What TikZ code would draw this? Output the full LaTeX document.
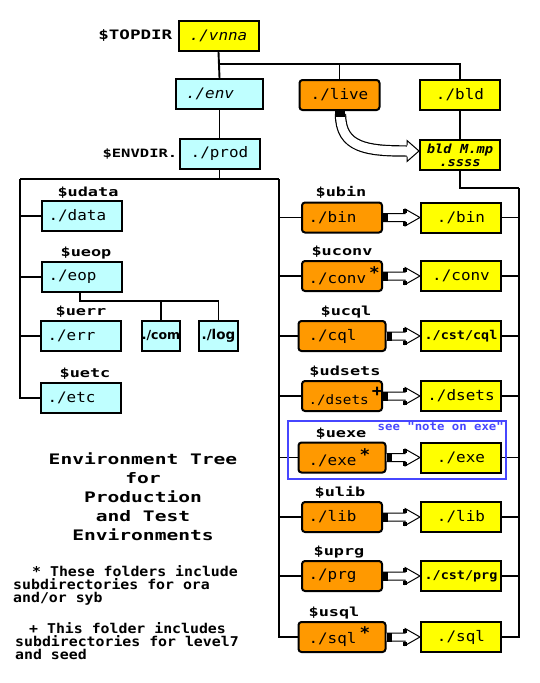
\documentclass[tikz,border=0pt]{standalone}
\usepackage{fontspec}
\newfontfamily\dirfont[FakeStretch=1.1]{DejaVu Sans Mono}
\newfontfamily\tagfont[FakeStretch=1.35]{DejaVu Sans Mono}
\newfontfamily\macfont{DejaVu Sans}
\usetikzlibrary{positioning,calc}

\definecolor{envcyan}{RGB}{191,255,255}
\definecolor{bldyellow}{RGB}{255,255,0}
\definecolor{liveorange}{RGB}{255,153,0}
\definecolor{noteblue}{RGB}{70,70,255}

\newcommand{\fsize}[1]{\fontsize{#1}{#1}\selectfont}
\newcommand{\flag}[2][5pt]{\rlap{\hspace{3pt}\raisebox{#1}{\bfseries\fsize{16}#2}}}

\tikzset{
	dirbox/.style = {draw, line width = 2pt, minimum width = 80pt, minimum height = 30pt, inner sep = 0pt, font = \dirfont\fsize{14.5}},
	leftbox/.style = {text width = 67pt, align = left, inner xsep = 6.5pt},
	envbox/.style = {dirbox, fill = envcyan},
	bldbox/.style = {dirbox, fill = bldyellow},
	livebox/.style = {dirbox, fill = liveorange, rounded corners = 3pt},
	dirtag/.style = {inner sep = 1pt, font = \tagfont\bfseries\fsize{12.5}},
	wire/.style = {line width = 1.9pt},
	hollow/.style = {line width = 1.2pt, double = white, double distance = 9pt},
	hollowtip/.style = {draw, fill = white, line width = 1pt, line join = miter},
}

\newcommand{\dirlink}[2]{%
	\draw [hollowtip] ($(#1.east)+(0,-4)$) -- ($(#2.west)+(-15,-4)$) -- ($(#2.west)+(-15,-8.5)$) -- (#2.west) -- ($(#2.west)+(-15,8.5)$) -- ($(#2.west)+(-15,4)$) -- ($(#1.east)+(0,4)$);
	\fill ($(#1.east)+(0,-4.5)$) rectangle ++(5,9);
	\fill ($(#2.west)+(-17,-8.5)$) rectangle ++(4,4);
	\fill ($(#2.west)+(-17,4.5)$) rectangle ++(4,4);
}

\begin{document}
\begin{tikzpicture}[x = 1pt, y = -1pt]
	\useasboundingbox (0,0) rectangle (539,683);

	\node [bldbox] (vnna) at (218.5,36) {\itshape ./vnna};
	\node [dirtag, left = 4pt of vnna, font = \tagfont\bfseries\fsize{13}] (topdir) {\$TOPDIR};
	\node [envbox, leftbox, inner xsep = 10pt] (env) at (219.5,94) {\itshape ./env};
	\node [livebox] (live) at (339.5,95) {./live};
	\node [bldbox] (bld) at (460,95) {./bld};
	\node [envbox] (prod) at (219.5,153.5) {./prod};
	\node [dirtag, left = 0pt of prod, font = \tagfont\bfseries\fsize{11.5}] (envdir) {\$ENVDIR.};
	\node [bldbox, align = center, font = \dirfont\bfseries\itshape\fontsize{12.5}{13}\selectfont] (bldmp) at (460,155) {bld M.mp\\.ssss};

	\node [envbox, leftbox] (data) at (82,216) {./data};
	\node [dirtag, above = 0pt of data, xshift = 6pt] (udata) {\$udata};
	\node [envbox, leftbox] (eop) at (82,277) {./eop};
	\node [dirtag, above = 1pt of eop, xshift = 4pt] (ueop) {\$ueop};
	\node [envbox, leftbox] (err) at (81,336) {./err};
	\node [dirtag, above = 1pt of err] (uerr) {\$uerr};
	\node [envbox, leftbox] (etc) at (81,398) {./etc};
	\node [dirtag, above = 1pt of etc, xshift = 4pt] (uetc) {\$uetc};
	\node [envbox, minimum width = 38pt, font = \macfont\bfseries\fsize{12.5}] (com) at (161,336) {./com};
	\node [envbox, minimum width = 39pt, font = \macfont\bfseries\fsize{13.5}] (log) at (218.5,336) {./log};

	\node [livebox, leftbox] (bin) at (342,217.5) {./bin};
	\node [dirtag, above = 2pt of bin, xshift = -1pt] (ubin) {\$ubin};
	\node [livebox, leftbox] (conv) at (342,276) {./conv\flag{*}};
	\node [dirtag, above = 1pt of conv] (uconv) {\$uconv};
	\node [livebox, leftbox, inner xsep = 10pt] (cql) at (342,336) {./cql};
	\node [dirtag, above = 1pt of cql, xshift = 4pt] (ucql) {\$ucql};
	\node [livebox, leftbox, inner xsep = 4pt, font = \dirfont\fsize{13}] (dsets) at (342,396) {./dsets\flag[8pt]{+}};
	\node [dirtag, above = 1pt of dsets, xshift = 3pt] (udsets) {\$udsets};
	\node [livebox, leftbox, inner xsep = 10pt] (exe) at (342,457.5) {./exe\flag{*}};
	\node [dirtag, above = 1pt of exe, xshift = -1pt] (uexe) {\$uexe};
	\node [livebox, leftbox] (lib) at (342,517) {./lib};
	\node [dirtag, above = 1pt of lib, xshift = -2pt] (ulib) {\$ulib};
	\node [livebox, leftbox] (prg) at (342,576) {./prg};
	\node [dirtag, above = 1pt of prg, xshift = -3pt] (uprg) {\$uprg};
	\node [livebox, leftbox, inner xsep = 10pt] (sql) at (342,637) {./sql\flag{*}};
	\node [dirtag, above = 1pt of sql, xshift = -8pt] (usql) {\$usql};

	\node [bldbox] (bbin) at (461,217.5) {./bin};
	\node [bldbox] (bconv) at (461,276) {./conv};
	\node [bldbox, font = \dirfont\bfseries\fsize{12.2}] (bcql) at (461,336) {./cst/cql};
	\node [bldbox] (bdsets) at (461,396) {./dsets};
	\node [bldbox] (bexe) at (461,457.5) {./exe};
	\node [bldbox] (blib) at (461,517) {./lib};
	\node [bldbox, font = \dirfont\bfseries\fsize{12.2}] (bprg) at (461,576) {./cst/prg};
	\node [bldbox] (bsql) at (461,637) {./sql};

	\coordinate (topbus) at ($(vnna.south)!.45!(env.north)$);
	\draw [wire] (vnna.south) -- (env.north);
	\draw [wire] (topbus) -| (live.north);
	\draw [wire] (topbus) -| (bld.north);
	\draw [wire] (env.south) -- (prod.north);
	\draw [wire] (bld.south) -- (bldmp.north);

	\coordinate (lrail) at (20,179);
	\coordinate (rrail) at (279,179);
	\coordinate (envbus) at (prod.south |- lrail);
	\draw [wire] (prod.south) -- (envbus);
	\draw [wire] (lrail) -- (rrail);
	\foreach \dname in {data,eop,err,etc}{
	\draw [wire] (lrail) |- (\dname.west);
	}
	\coordinate (eopbus) at ($(eop.south)+(-2,8)$);
	\draw [wire] (eopbus |- eop.south) -- (eopbus) -| (log.north);
	\draw [wire] (eopbus -| com.north) -- (com.north);

	\coordinate (yrail) at (519,188);
	\draw [wire] (bldmp.south) |- (yrail);
	\foreach \dname in {bin,conv,cql,dsets,exe,lib,prg,sql}{
	\draw [wire] (rrail) |- (\dname.west);
	\draw [wire] (yrail) |- (b\dname.east);
	\dirlink{\dname}{b\dname}
	}

	\coordinate (livetail) at ($(live.south)+(1,3)$);
	\coordinate (mpbase) at ($(bldmp.west)+(-12,-4)$);
	\draw [hollow] (livetail) .. controls +(0,34) and +(-40,0) .. (mpbase);
	\fill ($(live.south)+(-5,0)$) rectangle ++(10,6);
	\draw [hollowtip] ($(mpbase)+(0,-5.6)$) -- ($(mpbase)+(0,-10.5)$) -- ($(bldmp.west)+(0,-4)$) -- ($(mpbase)+(0,10.5)$) -- ($(mpbase)+(0,5.6)$);

	\draw [line width = 1.6pt, noteblue] (288,421) rectangle (506,479);
	\node [anchor = north east, inner sep = 0pt, text = noteblue, font = \dirfont\bfseries\fsize{11.2}] (exenote) at (504,422) {see "note on exe"};

	\node [align = center, font = \tagfont\bfseries\fontsize{14.5}{19}\selectfont] (title) at (143,497) {Environment Tree\\for\\Production\\and Test\\Environments};
	\node [anchor = west, align = left, inner sep = 0pt, font = \dirfont\bfseries\fontsize{13.5}{13}\selectfont] (oranote) at (13,585) {\hspace*{19pt}* These folders include\\subdirectories for ora\\and/or syb};
	\node [anchor = west, align = left, inner sep = 0pt, font = \dirfont\bfseries\fontsize{13.5}{13}\selectfont] (seednote) at (15,641) {\hspace*{14pt}+ This folder includes\\subdirectories for level7\\and seed};
\end{tikzpicture}
\end{document}
